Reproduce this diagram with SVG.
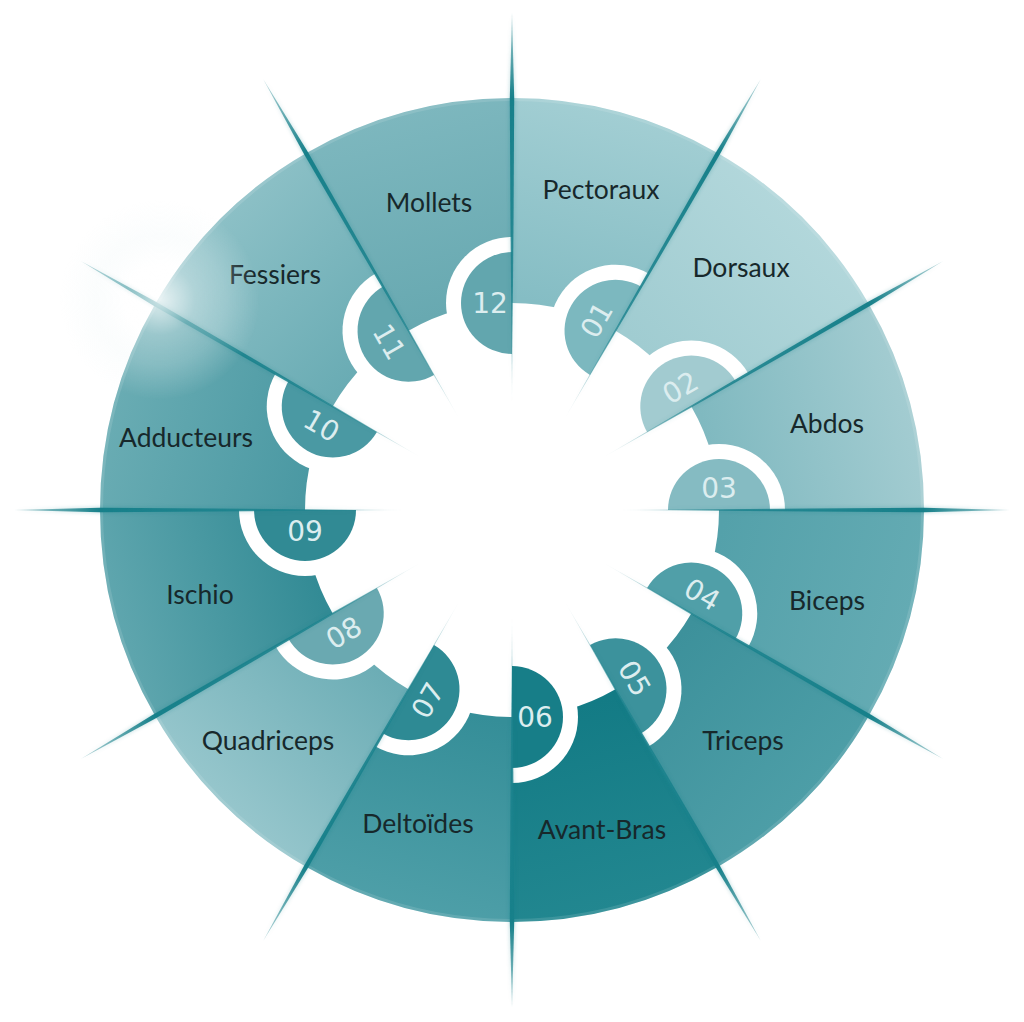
<svg xmlns="http://www.w3.org/2000/svg" xmlns:xlink="http://www.w3.org/1999/xlink" width="1024" height="1022" viewBox="0 0 1024 1022">
<style>
.lbl{font-family:Lato,"Open Sans","Liberation Sans",sans-serif;font-size:26.5px;fill:#17282b;text-anchor:middle}
.num{font-family:"DejaVu Sans","Liberation Sans",sans-serif;font-size:28px;fill:#dcedef;text-anchor:middle}
.halo{fill:#ffffff}
</style>
<defs>
<linearGradient id="g1" gradientUnits="userSpaceOnUse" x1="565.6" y1="310.1" x2="618.6" y2="112.1"><stop offset="0" stop-color="#85bdc4"/><stop offset="1" stop-color="#a2ced3"/></linearGradient>
<linearGradient id="g2" gradientUnits="userSpaceOnUse" x1="658.4" y1="363.6" x2="803.3" y2="218.7"><stop offset="0" stop-color="#a0ccd1"/><stop offset="1" stop-color="#b2d7db"/></linearGradient>
<linearGradient id="g3" gradientUnits="userSpaceOnUse" x1="711.9" y1="456.4" x2="910" y2="403.4"><stop offset="0" stop-color="#80b9c0"/><stop offset="1" stop-color="#a3ccd1"/></linearGradient>
<linearGradient id="g4" gradientUnits="userSpaceOnUse" x1="711.9" y1="563.6" x2="910" y2="616.6"><stop offset="0" stop-color="#54a1aa"/><stop offset="1" stop-color="#64abb3"/></linearGradient>
<linearGradient id="g5" gradientUnits="userSpaceOnUse" x1="658.4" y1="656.4" x2="803.3" y2="801.3"><stop offset="0" stop-color="#3d919b"/><stop offset="1" stop-color="#4d9ea7"/></linearGradient>
<linearGradient id="g6" gradientUnits="userSpaceOnUse" x1="565.6" y1="709.9" x2="618.6" y2="908"><stop offset="0" stop-color="#137b85"/><stop offset="1" stop-color="#228790"/></linearGradient>
<linearGradient id="g7" gradientUnits="userSpaceOnUse" x1="458.4" y1="709.9" x2="405.4" y2="908"><stop offset="0" stop-color="#358e98"/><stop offset="1" stop-color="#4e9fa8"/></linearGradient>
<linearGradient id="g8" gradientUnits="userSpaceOnUse" x1="365.6" y1="656.4" x2="220.7" y2="801.3"><stop offset="0" stop-color="#6cadb5"/><stop offset="1" stop-color="#96c6cc"/></linearGradient>
<linearGradient id="g9" gradientUnits="userSpaceOnUse" x1="312.1" y1="563.6" x2="114" y2="616.6"><stop offset="0" stop-color="#338b95"/><stop offset="1" stop-color="#5fa6ae"/></linearGradient>
<linearGradient id="g10" gradientUnits="userSpaceOnUse" x1="312.1" y1="456.4" x2="114" y2="403.4"><stop offset="0" stop-color="#4b99a3"/><stop offset="1" stop-color="#69acb3"/></linearGradient>
<linearGradient id="g11" gradientUnits="userSpaceOnUse" x1="365.6" y1="363.6" x2="220.7" y2="218.7"><stop offset="0" stop-color="#6aacb4"/><stop offset="1" stop-color="#8cc0c6"/></linearGradient>
<linearGradient id="g12" gradientUnits="userSpaceOnUse" x1="458.4" y1="310.1" x2="405.4" y2="112.1"><stop offset="0" stop-color="#68a9b1"/><stop offset="1" stop-color="#7db7be"/></linearGradient>
<linearGradient id="gs" gradientUnits="userSpaceOnUse" x1="617" y1="0" x2="1010" y2="0">
<stop offset="0" stop-color="#1d838e" stop-opacity="0"/>
<stop offset="0.3" stop-color="#1d838e" stop-opacity="0.85"/>
<stop offset="0.78" stop-color="#17808a" stop-opacity="1"/>
<stop offset="1" stop-color="#17808a" stop-opacity="0.3"/>
</linearGradient>
<radialGradient id="glow" cx="160" cy="300" r="100" gradientUnits="userSpaceOnUse">
<stop offset="0" stop-color="#ffffff" stop-opacity="0.8"/>
<stop offset="0.35" stop-color="#ffffff" stop-opacity="0.35"/>
<stop offset="0.65" stop-color="#eef6f7" stop-opacity="0.25"/>
<stop offset="1" stop-color="#eef6f7" stop-opacity="0"/>
</radialGradient>
<filter id="blur" x="-20%" y="-20%" width="140%" height="140%"><feGaussianBlur stdDeviation="2"/></filter>
<polygon id="spike" points="617,510 812,508.4 924,507.8 1010,510 924,512.2 812,511.6" fill="url(#gs)"/>
</defs>

<g id="sector-01">
<path d="M512 98 A412 412 0 0 1 718 153.2 L615.5 330.73 A207 207 0 0 0 512 303 Z" fill="url(#g1)"/>
<path class="halo" d="M648.5 273.57 A66 66 0 0 0 582.5 387.89 Z"/>
<path d="M641 286.56 A51 51 0 0 0 590 374.9 Z" fill="#7cb8bf"/>
<text class="num" transform="translate(596.4 319.7) rotate(-60)" y="10">01</text>
<text class="lbl" x="601" y="199">Pectoraux</text>
</g>
<g id="sector-02">
<path d="M718 153.2 A412 412 0 0 1 868.8 304 L691.27 406.5 A207 207 0 0 0 615.5 330.73 Z" fill="url(#g2)"/>
<path class="halo" d="M748.43 373.5 A66 66 0 0 0 634.11 439.5 Z"/>
<path d="M735.44 381 A51 51 0 0 0 647.1 432 Z" fill="#a2cbd0"/>
<text class="num" transform="translate(680.3 387.4) rotate(-30)" y="10">02</text>
<text class="lbl" x="741" y="277">Dorsaux</text>
</g>
<g id="sector-03">
<path d="M868.8 304 A412 412 0 0 1 924 510 L719 510 A207 207 0 0 0 691.27 406.5 Z" fill="url(#g3)"/>
<path class="halo" d="M785 510 A66 66 0 0 0 653 510 Z"/>
<path d="M770 510 A51 51 0 0 0 668 510 Z" fill="#85bbc2"/>
<text class="num" transform="translate(719 488)" y="10">03</text>
<text class="lbl" x="827" y="433">Abdos</text>
</g>
<g id="sector-04">
<path d="M924 510 A412 412 0 0 1 868.8 716 L691.27 613.5 A207 207 0 0 0 719 510 Z" fill="url(#g4)"/>
<path class="halo" d="M748.43 646.5 A66 66 0 0 0 634.11 580.5 Z"/>
<path d="M735.44 639 A51 51 0 0 0 647.1 588 Z" fill="#509fa8"/>
<text class="num" transform="translate(702.3 594.4) rotate(30)" y="10">04</text>
<text class="lbl" x="827" y="610">Biceps</text>
</g>
<g id="sector-05">
<path d="M868.8 716 A412 412 0 0 1 718 866.8 L615.5 689.27 A207 207 0 0 0 691.27 613.5 Z" fill="url(#g5)"/>
<path class="halo" d="M648.5 746.43 A66 66 0 0 0 582.5 632.11 Z"/>
<path d="M641 733.44 A51 51 0 0 0 590 645.1 Z" fill="#3c929c"/>
<text class="num" transform="translate(634.6 678.3) rotate(60)" y="10">05</text>
<text class="lbl" x="743" y="750">Triceps</text>
</g>
<g id="sector-06">
<path d="M718 866.8 A412 412 0 0 1 512 922 L512 717 A207 207 0 0 0 615.5 689.27 Z" fill="url(#g6)"/>
<path class="halo" d="M512 783 A66 66 0 0 0 512 651 Z"/>
<path d="M512 768 A51 51 0 0 0 512 666 Z" fill="#177e88"/>
<text class="num" transform="translate(535 717)" y="10">06</text>
<text class="lbl" x="602" y="839">Avant-Bras</text>
</g>
<g id="sector-07">
<path d="M512 922 A412 412 0 0 1 306 866.8 L408.5 689.27 A207 207 0 0 0 512 717 Z" fill="url(#g7)"/>
<path class="halo" d="M375.5 746.43 A66 66 0 0 0 441.5 632.11 Z"/>
<path d="M383 733.44 A51 51 0 0 0 434 645.1 Z" fill="#2e8a94"/>
<text class="num" transform="translate(427.6 700.3) rotate(-60)" y="10">07</text>
<text class="lbl" x="418" y="833">Deltoïdes</text>
</g>
<g id="sector-08">
<path d="M306 866.8 A412 412 0 0 1 155.2 716 L332.73 613.5 A207 207 0 0 0 408.5 689.27 Z" fill="url(#g8)"/>
<path class="halo" d="M275.57 646.5 A66 66 0 0 0 389.89 580.5 Z"/>
<path d="M288.56 639 A51 51 0 0 0 376.9 588 Z" fill="#6aa9b1"/>
<text class="num" transform="translate(343.7 632.6) rotate(-30)" y="10">08</text>
<text class="lbl" x="268" y="750">Quadriceps</text>
</g>
<g id="sector-09">
<path d="M155.2 716 A412 412 0 0 1 100 510 L305 510 A207 207 0 0 0 332.73 613.5 Z" fill="url(#g9)"/>
<path class="halo" d="M239 510 A66 66 0 0 0 371 510 Z"/>
<path d="M254 510 A51 51 0 0 0 356 510 Z" fill="#318a94"/>
<text class="num" transform="translate(305 531)" y="10">09</text>
<text class="lbl" x="200" y="604">Ischio</text>
</g>
<g id="sector-10">
<path d="M100 510 A412 412 0 0 1 155.2 304 L332.73 406.5 A207 207 0 0 0 305 510 Z" fill="url(#g10)"/>
<path class="halo" d="M275.57 373.5 A66 66 0 0 0 389.89 439.5 Z"/>
<path d="M288.56 381 A51 51 0 0 0 376.9 432 Z" fill="#4a99a3"/>
<text class="num" transform="translate(321.7 425.6) rotate(30)" y="10">10</text>
<text class="lbl" x="186" y="447">Adducteurs</text>
</g>
<g id="sector-11">
<path d="M155.2 304 A412 412 0 0 1 306 153.2 L408.5 330.73 A207 207 0 0 0 332.73 406.5 Z" fill="url(#g11)"/>
<path class="halo" d="M375.5 273.57 A66 66 0 0 0 441.5 387.89 Z"/>
<path d="M383 286.56 A51 51 0 0 0 434 374.9 Z" fill="#62a6ae"/>
<text class="num" transform="translate(389.4 341.7) rotate(60)" y="10">11</text>
<text class="lbl" x="275" y="284">Fessiers</text>
</g>
<g id="sector-12">
<path d="M306 153.2 A412 412 0 0 1 512 98 L512 303 A207 207 0 0 0 408.5 330.73 Z" fill="url(#g12)"/>
<path class="halo" d="M512 237 A66 66 0 0 0 512 369 Z"/>
<path d="M512 252 A51 51 0 0 0 512 354 Z" fill="#62a6ae"/>
<text class="num" transform="translate(490 303)" y="10">12</text>
<text class="lbl" x="429" y="212">Mollets</text>
</g>

<circle cx="512" cy="510" r="410.5" fill="none" stroke="#ffffff" stroke-opacity="0.12" stroke-width="3"/>

<g id="connectors">
<g opacity="0.35" filter="url(#blur)">
<use xlink:href="#spike" transform="rotate(-90 512 510)"/>
<use xlink:href="#spike" transform="rotate(-60 512 510)"/>
<use xlink:href="#spike" transform="rotate(-30 512 510)"/>
<use xlink:href="#spike"/>
<use xlink:href="#spike" transform="rotate(30 512 510)"/>
<use xlink:href="#spike" transform="rotate(60 512 510)"/>
<use xlink:href="#spike" transform="rotate(90 512 510)"/>
<use xlink:href="#spike" transform="rotate(120 512 510)"/>
<use xlink:href="#spike" transform="rotate(150 512 510)"/>
<use xlink:href="#spike" transform="rotate(180 512 510)"/>
<use xlink:href="#spike" transform="rotate(210 512 510)"/>
<use xlink:href="#spike" transform="rotate(240 512 510)"/>
</g>
<use xlink:href="#spike" transform="rotate(-90 512 510)"/>
<use xlink:href="#spike" transform="rotate(-60 512 510)"/>
<use xlink:href="#spike" transform="rotate(-30 512 510)"/>
<use xlink:href="#spike"/>
<use xlink:href="#spike" transform="rotate(30 512 510)"/>
<use xlink:href="#spike" transform="rotate(60 512 510)"/>
<use xlink:href="#spike" transform="rotate(90 512 510)"/>
<use xlink:href="#spike" transform="rotate(120 512 510)"/>
<use xlink:href="#spike" transform="rotate(150 512 510)"/>
<use xlink:href="#spike" transform="rotate(180 512 510)"/>
<use xlink:href="#spike" transform="rotate(210 512 510)"/>
<use xlink:href="#spike" transform="rotate(240 512 510)"/>
</g>

<circle id="glare" cx="160" cy="300" r="100" fill="url(#glow)"/>
</svg>
